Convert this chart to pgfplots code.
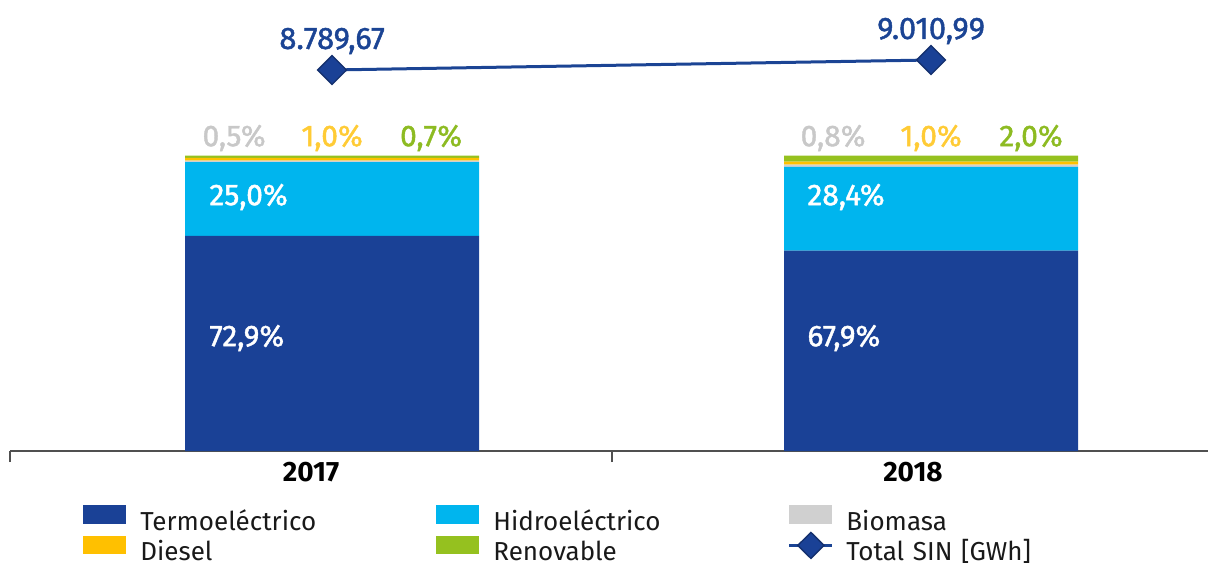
\documentclass[border=0pt]{standalone}
\usepackage{fontspec}
\setmainfont{Fira Sans}
\newfontfamily\labfont{Fira Sans}[FakeBold=1.4]
\usepackage{pgfplots}
\pgfplotsset{compat=1.18}
\definecolor{termo}{HTML}{1A4196}
\definecolor{hidro}{HTML}{00B5EE}
\definecolor{bio}{HTML}{D0D0D0}
\definecolor{diesel}{HTML}{FFC000}
\definecolor{renov}{HTML}{95C11F}
\definecolor{lineblue}{HTML}{1B4494}
\definecolor{darkb}{HTML}{14306E}
\definecolor{axisgray}{HTML}{505050}
\definecolor{lbgrey}{HTML}{C8C8C8}
\definecolor{lbyellow}{HTML}{FFCB35}
\definecolor{lbgreen}{HTML}{8DBB22}
\tikzset{lab/.style={font=\labfont\fontsize{15}{17}\selectfont, inner sep=0pt}}
\begin{document}
\begin{tikzpicture}
\useasboundingbox (0,0) rectangle (604pt,281pt);
\begin{axis}[
  at={(5pt,55.5pt)}, anchor=south west,
  scale only axis, width=602pt, height=225.5pt,
  xmin=-0.5, xmax=1.5, ymin=0, ymax=152.88,
  ybar stacked, bar width=147pt, bar shift=0pt,
  axis x line*=bottom, axis y line=none,
  x axis line style={draw=axisgray, line width=0.75pt, -},
  xtick={0,1}, xticklabels={2017,2018},
  minor xtick={-0.5,0.5,1.5},
  tick align=outside,
  major tick length=0pt,
  minor tick length=5.5pt,
  minor x tick style={draw=axisgray, line width=0.6pt},
  xticklabel style={font=\fontsize{14}{16}\selectfont\bfseries, text=black, yshift=-2pt},
  clip=false,
  legend columns=3,
  legend image code/.code={\fill[#1] (0pt,-0.3pt) rectangle (21.5pt,9pt);},
  legend style={at={(axis description cs:0,0)}, anchor=north west, xshift=36.5pt, yshift=-27pt,
    draw=none, fill=none, inner sep=0pt, column sep=0pt, row sep=0.6pt,
    /tikz/every odd column/.append style={column sep=7pt},
    /tikz/every even column/.append style={nodes={text width=148pt}},
    nodes={inner sep=0pt, text height=9pt, text depth=2.2pt, font=\fontsize{13}{15}\selectfont, text=black!90}},
  legend cell align=left,
]
\addplot[fill=termo, draw=none] coordinates {(0.035,72.9) (1.03,67.9)};
\addlegendentry{Termoeléctrico}
\addplot[fill=hidro, draw=none] coordinates {(0.035,25.0) (1.03,28.4)};
\addlegendentry{Hidroeléctrico}
\addplot[fill=bio, draw=none] coordinates {(0.035,0.5) (1.03,0.8)};
\addlegendentry{Biomasa}
\addplot[fill=diesel, draw=none] coordinates {(0.035,1.0) (1.03,1.0)};
\addlegendentry{Diesel}
\addplot[fill=renov, draw=none] coordinates {(0.035,0.7) (1.03,2.0)};
\addlegendentry{Renovable}
\addlegendimage{legend image code/.code={
  \path[draw=none, fill=none] (0pt,-0.3pt) rectangle (21.5pt,9pt);
  \draw[overlay, lineblue, line width=1.6pt] (0pt,4.2pt) -- (21.5pt,4.2pt);
  \filldraw[overlay, draw=darkb, fill=termo, line width=0.7pt] (10.75pt,-2.3pt) -- (17.3pt,4.2pt) -- (10.75pt,10.7pt) -- (4.2pt,4.2pt) -- cycle;}}
\addlegendentry{Total SIN [GWh]}
\end{axis}
\begin{axis}[
  at={(5pt,55.5pt)}, anchor=south west,
  scale only axis, width=602pt, height=225.5pt,
  xmin=-0.5, xmax=1.5, ymin=357, ymax=10339,
  hide axis, clip=false,
]
\addplot[color=lineblue, line width=1.5pt, mark=square*, mark size=5.1pt,
  mark options={rotate=45, fill=termo, draw=darkb, line width=0.7pt},
  nodes near coords, point meta=explicit symbolic,
  every node near coord/.append style={anchor=center, yshift=14.5pt, text=lineblue, font=\labfont\fontsize{15.5}{17}\selectfont}]
  coordinates {(0.035,8789.67) [8.789,67] (1.03,9010.99) [9.010,99]};
% segment labels (positions in relative units of the bar axis: value/152.88)
\node[lab, anchor=west, text=white, xshift=-61.5pt] at (axis description cs:0.2675,0.2505) {72,9\%};
\node[lab, anchor=west, text=white, xshift=-61.5pt] at (axis description cs:0.2675,0.5632) {25,0\%};
\node[lab, anchor=west, text=white, xshift=-62pt] at (axis description cs:0.765,0.2505) {67,9\%};
\node[lab, anchor=west, text=white, xshift=-62pt] at (axis description cs:0.765,0.5632) {28,4\%};
\node[lab, text=lbgrey, xshift=-49pt] at (axis description cs:0.2675,0.694) {0,5\%};
\node[lab, text=lbyellow] at (axis description cs:0.2675,0.694) {1,0\%};
\node[lab, text=lbgreen, xshift=49.5pt] at (axis description cs:0.2675,0.694) {0,7\%};
\node[lab, text=lbgrey, xshift=-49pt] at (axis description cs:0.765,0.694) {0,8\%};
\node[lab, text=lbyellow] at (axis description cs:0.765,0.694) {1,0\%};
\node[lab, text=lbgreen, xshift=50pt] at (axis description cs:0.765,0.694) {2,0\%};
\end{axis}
\end{tikzpicture}
\end{document}
